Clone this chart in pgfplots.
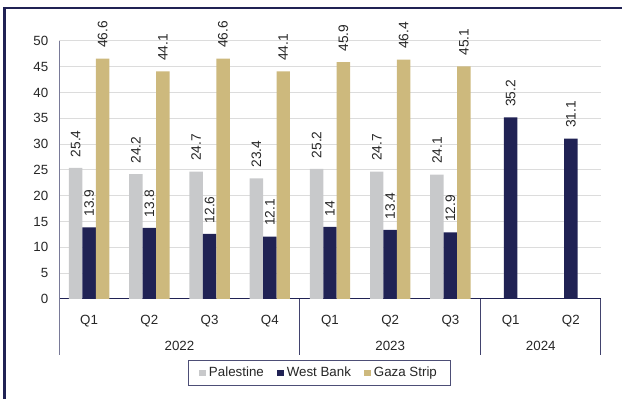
\documentclass[border=0pt]{standalone}
\usepackage{pgfplots}
\pgfplotsset{compat=1.18}
\usepackage{fontspec}
\setmainfont{Liberation Sans}
\definecolor{navy}{RGB}{32,34,84}
\definecolor{pgray}{RGB}{200,201,203}
\definecolor{ptan}{RGB}{205,185,125}
\definecolor{gridc}{RGB}{220,220,220}
\definecolor{txt}{RGB}{38,38,38}
\begin{document}
\begin{tikzpicture}
\useasboundingbox (0,0) rectangle (466.5pt,299.25pt);
\draw[navy, line width=1.9pt] (3.4pt,0) -- (3.4pt,293.25pt) -- (466.5pt,293.25pt);
\begin{axis}[
  at={(44.25pt,75pt)}, anchor=south west,
  scale only axis, width=406.5pt, height=193.5pt,
  xmin=-0.5, xmax=8.5, ymin=0, ymax=50,
  xtick={0,...,8}, xticklabels={Q1,Q2,Q3,Q4,Q1,Q2,Q3,Q1,Q2},
  ytick={0,5,...,50},
  /pgf/number format/assume math mode=true,
  tick style={draw=none},
  ymajorgrids, grid style={gridc, line width=0.75pt},
  axis x line*=bottom, axis y line*=left,
  x axis line style={navy, line width=0.75pt, -},
  y axis line style={navy!60, line width=0.75pt, -},
  ticklabel style={font=\fontsize{10}{12}\selectfont, text=txt},
  yticklabel style={xshift=-4.5pt},
  xticklabel style={yshift=-4.5pt},
  ybar=0pt, bar width=10.1pt,
  clip=false,
  nodes near coords,
  every node near coord/.append style={font=\fontsize{10.3}{12}\selectfont, text=txt, rotate=90, anchor=west, xshift=4.5pt},
  legend style={at={(0.4806,-0.2364)}, anchor=north, legend columns=3,
    draw=navy!80, line width=0.75pt, font=\fontsize{10}{12}\selectfont, text=txt,
    inner xsep=8pt, inner ysep=3pt,
    /tikz/every even column/.append style={column sep=8pt}},
  legend image code/.code={\fill[#1,draw=none] (0pt,-2.6pt) rectangle (5.2pt,2.6pt);},
]
\addplot[fill=pgray, draw=none] coordinates {(0,25.4) (1,24.2) (2,24.7) (3,23.4) (4,25.2) (5,24.7) (6,24.1)};
\addplot[fill=navy, draw=none] coordinates {(0,13.9) (1,13.8) (2,12.6) (3,12.1) (4,14) (5,13.4) (6,12.9) (7,35.2) (8,31.1)};
\addplot[fill=ptan, draw=none] coordinates {(0,46.6) (1,44.1) (2,46.6) (3,44.1) (4,45.9) (5,46.4) (6,45.1)};
\legend{Palestine, West Bank, Gaza Strip}
\draw[navy!60, line width=0.75pt] (axis cs:-0.5,0) -- ([yshift=-42pt]axis cs:-0.5,0);
\draw[navy!85, line width=0.75pt] (axis cs:3.5,0) -- ([yshift=-42pt]axis cs:3.5,0);
\draw[navy!85, line width=0.75pt] (axis cs:6.5,0) -- ([yshift=-42pt]axis cs:6.5,0);
\draw[navy!85, line width=0.75pt] (axis cs:8.5,0) -- ([yshift=-42pt]axis cs:8.5,0);
\node[font=\fontsize{10}{12}\selectfont, text=txt] at ([yshift=-35.25pt]axis cs:1.5,0) {2022};
\node[font=\fontsize{10}{12}\selectfont, text=txt] at ([yshift=-35.25pt]axis cs:5,0) {2023};
\node[font=\fontsize{10}{12}\selectfont, text=txt] at ([yshift=-35.25pt]axis cs:7.5,0) {2024};
\end{axis}
\end{tikzpicture}
\end{document}
